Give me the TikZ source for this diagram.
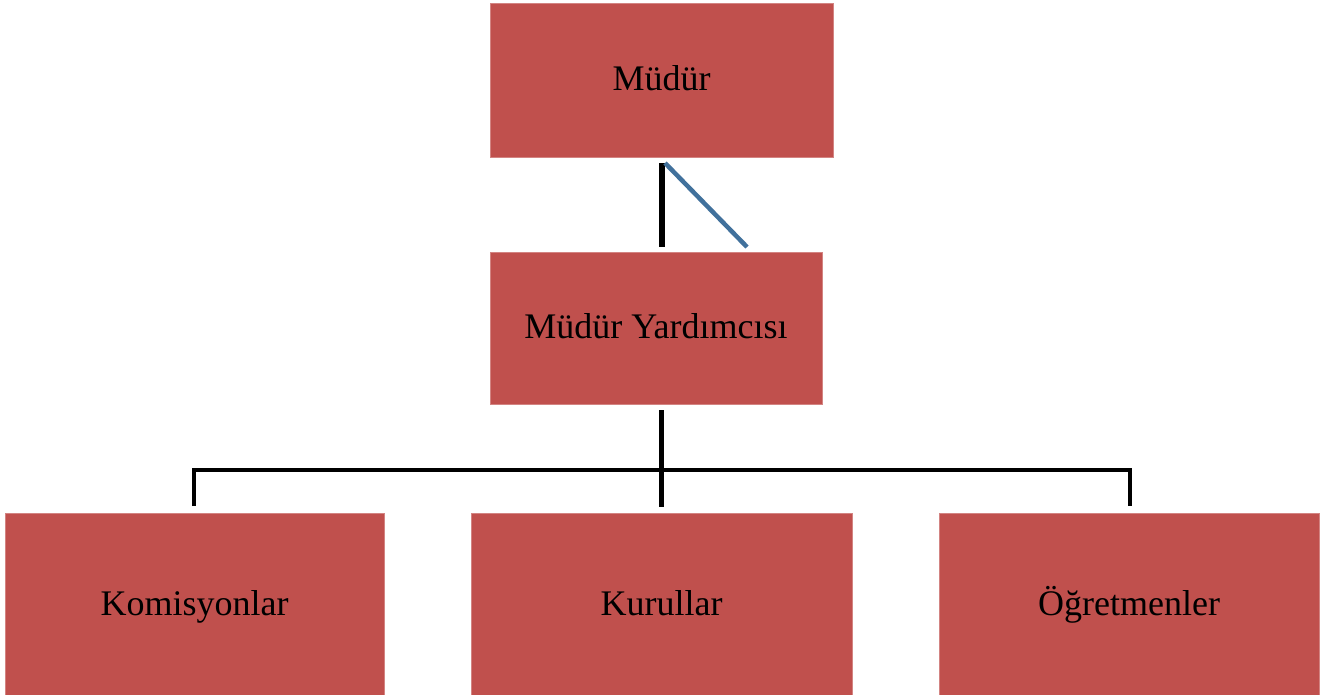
\documentclass[tikz,border=0pt]{standalone}
\usepackage{fontspec}
\setmainfont{Liberation Serif}
\definecolor{boxred}{HTML}{C0504D}
\definecolor{lineblue}{HTML}{41719C}
\begin{document}
\begin{tikzpicture}[x=1pt,y=-1pt,
  orgbox/.style={fill=boxred,draw=boxred!70!white,line width=0.8pt,inner sep=0pt,
    font=\fontsize{36}{40}\selectfont,text=black,text height=21pt,text depth=0pt},
  conn/.style={line width=6pt,black},
  conn2/.style={line width=4pt,black,line join=miter}]
\useasboundingbox[fill=white] (0,0) rectangle (1321,695);
\node[orgbox,minimum width=343pt,minimum height=154pt] (mudur) at (661.5,80) {Müdür};
\node[orgbox,minimum width=332pt,minimum height=152pt] (yard) at (656,328) {Müdür Yardımcısı};
\node[orgbox,minimum width=379pt,minimum height=184pt] (kom) at (194.5,605) {Komisyonlar};
\node[orgbox,minimum width=381pt,minimum height=184pt] (kur) at (661.5,605) {Kurullar};
\node[orgbox,minimum width=380pt,minimum height=184pt] (ogr) at (1129,605) {Öğretmenler};
\coordinate (a1) at (662,163);
\coordinate (a2) at (662,247);
\coordinate (b1) at (665,163);
\coordinate (b2) at (747,247);
\coordinate (c1) at (661,410);
\coordinate (c2) at (661,507);
\coordinate (hl) at (194,470);
\coordinate (hr) at (1130,470);
\coordinate (dl) at (194,506);
\coordinate (dr) at (1130,506);
\draw[conn] (a1) -- (a2);
\draw[line width=4.5pt,lineblue] (b1) -- (b2);
\draw[conn2] (dl) -- (hl) -- (hr) -- (dr);
\draw[conn2,line width=5pt] (c1) -- (c2);
\end{tikzpicture}
\end{document}
